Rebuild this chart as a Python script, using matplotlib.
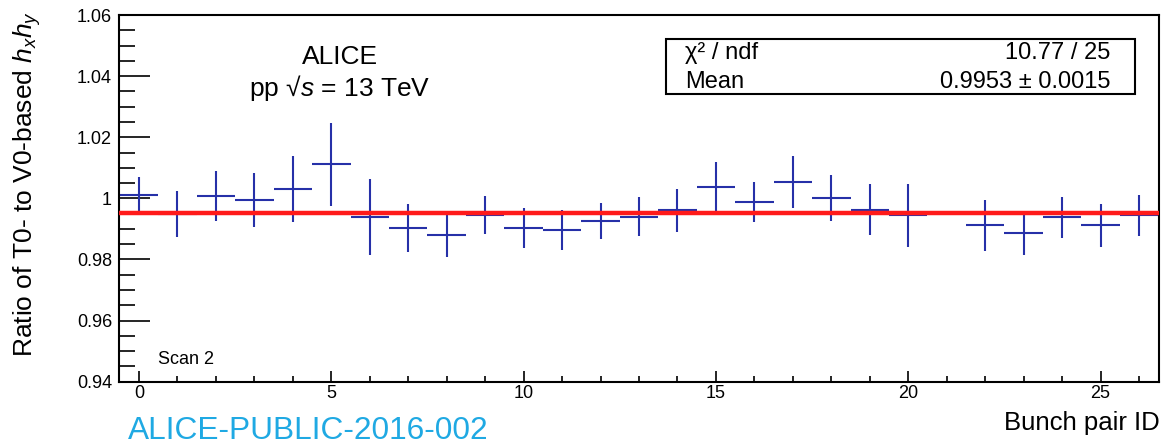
"""Ratio of T0- to V0-based h_x h_y per bunch pair (ALICE, Scan 2)."""

import matplotlib
matplotlib.use("Agg")
import matplotlib.pyplot as plt
import numpy as np
from matplotlib.patches import Rectangle
from matplotlib.ticker import FuncFormatter, MultipleLocator

plt.rcParams["font.family"] = ["Liberation Sans", "DejaVu Sans"]
plt.rcParams["mathtext.fontset"] = "custom"
plt.rcParams["mathtext.rm"] = "Liberation Sans"
plt.rcParams["mathtext.it"] = "Liberation Sans:italic"

# bunch pair 21 has no entry
bunch_id = [0, 1, 2, 3, 4, 5, 6, 7, 8, 9, 10, 11, 12, 13, 14, 15, 16, 17,
            18, 19, 20, 22, 23, 24, 25, 26]
ratio = [1.0011, 0.9948, 1.0007, 0.9995, 1.0030, 1.0112, 0.9939, 0.9903,
         0.9880, 0.9945, 0.9902, 0.9896, 0.9926, 0.9940, 0.9961, 1.0036,
         0.9987, 1.0053, 1.0002, 0.9963, 0.9945, 0.9912, 0.9887, 0.9938,
         0.9912, 0.9945]
ratio_err = [0.0060, 0.0076, 0.0082, 0.0088, 0.0107, 0.0136, 0.0124, 0.0079,
             0.0072, 0.0062, 0.0065, 0.0065, 0.0060, 0.0063, 0.0071, 0.0082,
             0.0066, 0.0085, 0.0075, 0.0084, 0.0103, 0.0083, 0.0072, 0.0068,
             0.0070, 0.0067]
fit_mean = 0.9953
chi2_ndf = "10.77 / 25"
mean_txt = "0.9953 ± 0.0015"

W, H = 1170, 446
fig = plt.figure(figsize=(W / 100, H / 100), dpi=100)
ax = fig.add_axes([119 / W, 1 - 381.7 / H, (1159 - 119) / W, (381.7 - 15) / H])

blue = "#2630a8"
ax.errorbar(bunch_id, ratio, yerr=ratio_err, xerr=0.5, fmt="none",
            ecolor=blue, elinewidth=1.5, capsize=0, zorder=2)
ax.axhline(fit_mean, color="#ff1a1a", lw=3.2, zorder=3)

ax.set_xlim(-0.52, 26.52)
ax.set_ylim(0.94, 1.06)
ax.xaxis.set_major_locator(MultipleLocator(5))
ax.xaxis.set_minor_locator(MultipleLocator(1))
ax.yaxis.set_major_locator(MultipleLocator(0.02))
ax.yaxis.set_minor_locator(MultipleLocator(0.005))
ax.yaxis.set_major_formatter(FuncFormatter(lambda v, _: f"{round(v, 2):g}"))

ax.tick_params(axis="y", which="major", direction="in", length=22, width=1.2,
               labelsize=13, pad=5)
ax.tick_params(axis="y", which="minor", direction="in", length=11.5, width=1.2)
ax.tick_params(axis="x", which="major", direction="in", length=8, width=1.2,
               labelsize=13, pad=2.5)
ax.tick_params(axis="x", which="minor", direction="in", length=4.3, width=1.2)
for s in ax.spines.values():
    s.set_linewidth(1.5)

fig.text(27 / W, 1 - 184 / H, "Ratio of T0- to V0-based $h_x h_y$",
         rotation=90, ha="center", va="center", fontsize=19)
fig.text(1160 / W, 1 - 423 / H, "Bunch pair ID", ha="right", va="center",
         fontsize=18.5)
fig.text(128 / W, 1 - 431 / H, "ALICE-PUBLIC-2016-002", ha="left",
         va="center", fontsize=22.8, color="#1fa9e3")
fig.text(158 / W, 1 - 360 / H, "Scan 2", ha="left", va="center", fontsize=13)

fig.text(340 / W, 1 - 57 / H, "ALICE", ha="center", va="center", fontsize=19)
fig.text(340 / W, 1 - 88 / H, "pp √$s$ = 13 TeV", ha="center", va="center",
         fontsize=19)

# stats box
fig.patches.append(Rectangle((666 / W, 1 - 94 / H), (1135 - 666) / W,
                             (94 - 39.3) / H, transform=fig.transFigure,
                             fill=False, ec="black", lw=1.5))
fig.text(685 / W, 1 - 53 / H, "χ² / ndf", ha="left", va="center",
         fontsize=17)
fig.text(685 / W, 1 - 82 / H, "Mean", ha="left", va="center", fontsize=17)
fig.text(1110 / W, 1 - 53 / H, chi2_ndf, ha="right", va="center", fontsize=17)
fig.text(1110 / W, 1 - 82 / H, mean_txt, ha="right", va="center", fontsize=17)

fig.savefig("out.png", dpi=100)
